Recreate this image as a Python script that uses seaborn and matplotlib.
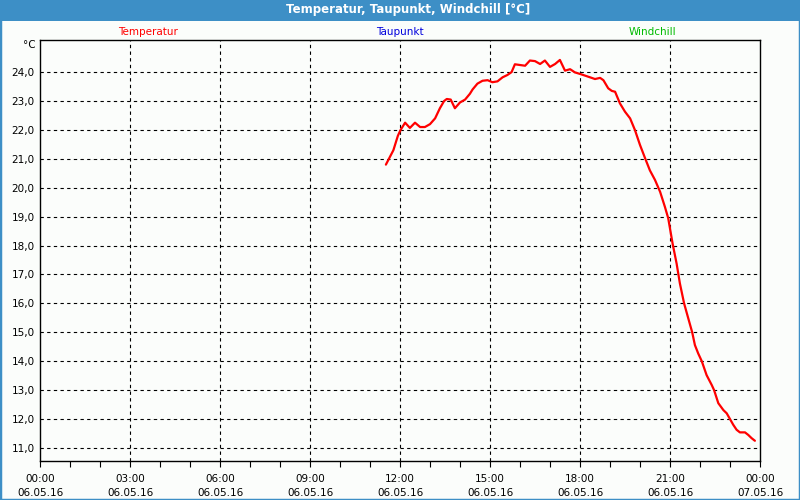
import pandas as pd
import numpy as np
import matplotlib
matplotlib.use("Agg")
import matplotlib.pyplot as plt
import matplotlib.ticker as mticker
from matplotlib.patches import Rectangle
import seaborn as sns

# --- Daten ---
hours = [11.53, 11.78, 11.93, 12.02, 12.17, 12.33, 12.5, 12.67, 12.83, 13.0,
         13.17, 13.33, 13.47, 13.56, 13.69, 13.83, 14.0, 14.17, 14.33, 14.42,
         14.58, 14.75, 14.92, 15.08, 15.25, 15.42, 15.58, 15.72, 15.83, 16.17,
         16.33, 16.5, 16.67, 16.83, 17.0, 17.17, 17.33, 17.5, 17.67, 17.83,
         18.02, 18.22, 18.39, 18.5, 18.67, 18.78, 18.94, 19.06, 19.17, 19.33,
         19.5, 19.67, 19.83, 20.0, 20.17, 20.33, 20.5, 20.67, 20.83, 20.94,
         21.09, 21.22, 21.33, 21.47, 21.61, 21.74, 21.83, 21.94, 22.06, 22.22,
         22.39, 22.47, 22.61, 22.78, 22.89, 23.0, 23.11, 23.22, 23.33, 23.5,
         23.61, 23.72, 23.83]
temperatur = [20.8, 21.3, 21.8, 22.0, 22.25, 22.07, 22.25, 22.1, 22.1, 22.2,
              22.4, 22.75, 23.0, 23.07, 23.05, 22.75, 22.95, 23.05, 23.25, 23.4,
              23.6, 23.7, 23.72, 23.65, 23.68, 23.82, 23.9, 24.0, 24.27, 24.22,
              24.4, 24.38, 24.28, 24.4, 24.18, 24.28, 24.42, 24.05, 24.1, 23.99,
              23.93, 23.86, 23.8, 23.76, 23.8, 23.72, 23.44, 23.35, 23.32, 22.92,
              22.63, 22.4, 22.0, 21.48, 21.02, 20.6, 20.27, 19.86, 19.34, 18.95,
              18.05, 17.38, 16.69, 16.0, 15.48, 15.0, 14.56, 14.27, 14.0, 13.52,
              13.18, 13.0, 12.55, 12.31, 12.2, 12.0, 11.8, 11.63, 11.54, 11.54,
              11.45, 11.34, 11.25]

x_ticks = [0, 3, 6, 9, 12, 15, 18, 21, 24]
x_labels = ["00:00\n06.05.16", "03:00\n06.05.16", "06:00\n06.05.16",
            "09:00\n06.05.16", "12:00\n06.05.16", "15:00\n06.05.16",
            "18:00\n06.05.16", "21:00\n06.05.16", "00:00\n07.05.16"]
y_ticks = list(range(11, 25))

legend_names = ["Temperatur", "Taupunkt", "Windchill"]
legend_colors = ["#ff0000", "#0000dd", "#00bb00"]

TITLE = "Temperatur, Taupunkt, Windchill [°C]"
BLUE = "#3d8fc6"
BG = "#fbfdfb"

sns.set_style("white")
plt.rcParams["font.family"] = ["DejaVu Sans"]
plt.rcParams["font.size"] = 7.5
plt.rcParams["text.color"] = "black"
plt.rcParams["xtick.color"] = "black"
plt.rcParams["ytick.color"] = "black"

df = pd.DataFrame({"stunde": hours, "temp": temperatur})

fig = plt.figure(figsize=(8, 5), dpi=100, facecolor=BG)
ax = fig.add_axes([40 / 800, 39 / 500, 720 / 800, 421 / 500])
ax.set_facecolor(BG)

sns.lineplot(data=df, x="stunde", y="temp", ax=ax, color="#ff0000", linewidth=1.6)

ax.set_xlim(0, 24)
ax.set_ylim(10.55, 25.11)
ax.set_xticks(x_ticks)
ax.set_xticklabels(x_labels, fontsize=7.5, linespacing=1.5)
ax.xaxis.set_minor_locator(mticker.MultipleLocator(1))
ax.set_yticks(y_ticks)
ax.yaxis.set_major_formatter(mticker.FuncFormatter(lambda v, p: f"{v:.1f}".replace(".", ",")))
ax.tick_params(axis="x", which="both", direction="out", length=4, width=0.8,
               color="black", labelcolor="black", pad=5, bottom=True)
ax.tick_params(axis="y", length=0, pad=4, labelsize=7.5, labelcolor="black")
ax.set_xlabel("")
ax.set_ylabel("")

# Gitter gestrichelt
for v in y_ticks:
    ax.axhline(v, color="black", linestyle=(0, (3, 3)), linewidth=0.8, zorder=0)
for v in x_ticks[1:-1]:
    ax.axvline(v, color="black", linestyle=(0, (3, 3)), linewidth=0.8, zorder=0)

for s in ax.spines.values():
    s.set_color("black")
    s.set_linewidth(1.0)

# Einheit + Legendentexte
fig.text(36 / 800, 1 - 45 / 500, "°C", ha="right", va="center", fontsize=7.5, color="black")
for name, col, xc in zip(legend_names, legend_colors, [148, 400, 652]):
    fig.text(xc / 800, 1 - 32 / 500, name, color=col, ha="center", va="center", fontsize=7.5)

# Titelleiste und Rahmen
fig.patches.append(Rectangle((0, 1 - 21 / 500), 1, 21 / 500, transform=fig.transFigure,
                             facecolor=BLUE, edgecolor="none", zorder=0))
fig.patches.append(Rectangle((0, 0), 1, 1, transform=fig.transFigure,
                             facecolor="none", edgecolor=BLUE, linewidth=2.5, zorder=0))
fig.text(0.51, 1 - 10 / 500, TITLE, color="white", ha="center", va="center",
         fontsize=8.5, fontweight="bold")

plt.savefig("out.png", dpi=100, facecolor=BG)
